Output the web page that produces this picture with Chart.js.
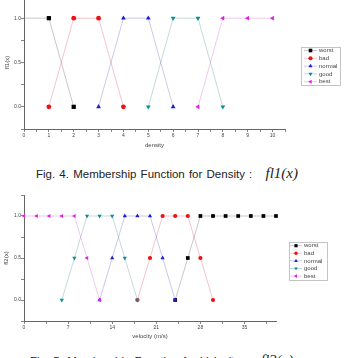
<!DOCTYPE html>
<html>
<head>
<meta charset="utf-8">
<script src="https://cdn.jsdelivr.net/npm/chart.js@4/dist/chart.umd.min.js"></script>
<style>
  html, body { margin: 0; padding: 0; background: #fff; }
  body { width: 345px; height: 358px; overflow: hidden; position: relative; font-family: "Liberation Sans", Arial, sans-serif; }
  .plot { position: absolute; left: 0; }
  #wrapDensity { top: -7px; }
  #wrapVelocity { top: 190px; }
  .caption { position: absolute; white-space: nowrap; color: #222; font-size: 11.5px; letter-spacing: 0; word-spacing: 1px; }
  .caption i { font-family: "Liberation Serif", serif; font-size: 15px; letter-spacing: 0; margin-left: 9px; }
</style>
</head>
<body>
<div class="plot" id="wrapDensity"><canvas id="chartDensity" width="345" height="156"></canvas></div>
<div class="caption" style="left:36px; top:165px;">Fig. 4. Membership Function for Density : <i>fl1(x)</i></div>
<div class="plot" id="wrapVelocity"><canvas id="chartVelocity" width="345" height="150"></canvas></div>
<div class="caption" style="left:30px; top:352px;">Fig. 5. Membership Function for Velocity : <i>fl2(x)</i></div>

<script>
// ---- data ----
const seriesNames = ['worst', 'bad', 'normal', 'good', 'best'];

// density (fig. 4)
const densityX      = [0, 1, 2, 3, 4, 5, 6, 7, 8, 9, 10];
const densityWorst  = [1, 1, 0, null, null, null, null, null, null, null, null];
const densityBad    = [null, 0, 1, 1, 0, null, null, null, null, null, null];
const densityNormal = [null, null, null, 0, 1, 1, 0, null, null, null, null];
const densityGood   = [null, null, null, null, null, 0, 1, 1, 0, null, null];
const densityBest   = [null, null, null, null, null, null, null, 0, 1, 1, 1];
const densityTicks  = [0, 1, 2, 3, 4, 5, 6, 7, 8, 9, 10];

// velocity (fig. 5)
const velocityX      = [0, 2, 4, 6, 8, 10, 12, 14, 16, 18, 20, 22, 24, 26, 28, 30, 32, 34, 36, 38, 40];
const velocityWorst  = [null, null, null, null, null, null, null, null, null, null, null, null, 0, 0.5, 1, 1, 1, 1, 1, 1, 1];
const velocityBad    = [null, null, null, null, null, null, null, null, null, 0, 0.5, 1, 1, 1, 0.5, 0, null, null, null, null, null];
const velocityNormal = [null, null, null, null, null, null, 0, 0.5, 1, 1, 1, 0.5, 0, null, null, null, null, null, null, null, null];
const velocityGood   = [null, null, null, 0, 0.5, 1, 1, 1, 0.5, 0, null, null, null, null, null, null, null, null, null, null, null];
const velocityBest   = [1, 1, 1, 1, 1, 0.5, 0, null, null, null, null, null, null, null, null, null, null, null, null, null, null];
const velocityTicks  = [0, 7, 14, 21, 28, 35];

const membershipTicks = [0, 0.5, 1];

// ---- styles ----
const markerStyles = [
  { color: '#000000', line: 'rgba(120,120,120,0.45)', pointStyle: 'rect',     rotation: 0,   scale: 1.25 },
  { color: '#ee1111', line: 'rgba(220,90,110,0.4)',   pointStyle: 'circle',   rotation: 0,   scale: 1 },
  { color: '#1c1cd0', line: 'rgba(110,100,200,0.4)',  pointStyle: 'triangle', rotation: 0,   scale: 1.15 },
  { color: '#0a8f8f', line: 'rgba(90,150,150,0.4)',   pointStyle: 'triangle', rotation: 180, scale: 1.15 },
  { color: '#e21fe2', line: 'rgba(210,110,210,0.4)',  pointStyle: 'triangle', rotation: 270, scale: 1.15 }
];
const axisColor = '#666';
const textColor = '#444';

const near = (list, v) => list.some(t => Math.abs(t - v) < 1e-6);

function toPoints(xs, ys) {
  return xs.map((x, i) => ({ x, y: ys[i] })).filter(p => p.y !== null);
}

function buildDatasets(xs, seriesList, radius, hideAtZero) {
  return seriesList.map((ys, i) => {
    const s = markerStyles[i];
    const r = radius * s.scale;
    return {
      label: seriesNames[i],
      data: toPoints(xs, ys),
      borderColor: s.line,
      borderWidth: 0.9,
      backgroundColor: s.color,
      pointBackgroundColor: s.color,
      pointBorderColor: s.color,
      pointBorderWidth: 0,
      pointStyle: s.pointStyle,
      pointRotation: s.rotation,
      pointRadius: ctx => (hideAtZero && ctx.raw && ctx.raw.x === 0 ? 0 : r),
      pointHoverRadius: r,
      legendRadius: r,
      order: seriesList.length - i,
      tension: 0,
      clip: false
    };
  });
}

// legend drawn as a framed box to the right of the plot
const boxLegend = {
  id: 'boxLegend',
  afterDraw(chart, args, opts) {
    const ctx = chart.ctx;
    ctx.save();
    ctx.strokeStyle = '#c4c4c4';
    ctx.lineWidth = 1;
    ctx.strokeRect(opts.x + 0.5, opts.y + 0.5, opts.w, opts.h);
    ctx.font = '6px "Liberation Sans", Arial, sans-serif';
    ctx.textBaseline = 'middle';
    chart.data.datasets.forEach((ds, i) => {
      const cy = opts.y + opts.firstRow + i * opts.rowH;
      ctx.strokeStyle = ds.borderColor;
      ctx.lineWidth = 0.9;
      ctx.beginPath();
      ctx.moveTo(opts.x + opts.lineFrom, cy);
      ctx.lineTo(opts.x + opts.lineTo, cy);
      ctx.stroke();
      ctx.fillStyle = ds.pointBackgroundColor;
      Chart.helpers.drawPoint(ctx, {
        pointStyle: ds.pointStyle, rotation: ds.pointRotation,
        radius: ds.legendRadius * 0.85, borderWidth: 0
      }, opts.x + (opts.lineFrom + opts.lineTo) / 2, cy);
      ctx.fillStyle = textColor;
      ctx.fillText(ds.label, opts.x + opts.textX, cy);
    });
    ctx.restore();
  }
};

// rotated y axis title, placed at a fixed x left of the tick labels
const yTitle = {
  id: 'yTitle',
  afterDraw(chart, args, opts) {
    const { ctx, chartArea } = chart;
    ctx.save();
    ctx.translate(opts.x, (chartArea.top + chartArea.bottom) / 2);
    ctx.rotate(-Math.PI / 2);
    ctx.font = '6px "Liberation Sans", Arial, sans-serif';
    ctx.fillStyle = textColor;
    ctx.textAlign = 'center';
    ctx.textBaseline = 'middle';
    ctx.fillText(opts.text, 0, 0);
    ctx.restore();
  }
};

function buildOptions(cfg) {
  return {
    responsive: false,
    animation: false,
    events: [],
    layout: { padding: { top: cfg.padTop, right: cfg.padRight, bottom: 0, left: 0 } },
    plugins: {
      legend: { display: false },
      tooltip: { enabled: false },
      boxLegend: cfg.legend,
      yTitle: { text: cfg.yTitle, x: cfg.yTitleX }
    },
    scales: {
      x: {
        type: 'linear',
        min: 0,
        max: cfg.xMax,
        afterFit: s => { s.height = cfg.xHeight; },
        ticks: {
          stepSize: cfg.xStep,
          includeBounds: false,
          autoSkip: false,
          maxRotation: 0,
          padding: 1,
          color: textColor,
          font: { family: 'Liberation Sans', size: 5 },
          callback: v => (near(cfg.xTicks, v) ? String(Math.round(v)) : '')
        },
        grid: { drawOnChartArea: false, drawTicks: true, tickLength: 3, color: axisColor, lineWidth: 0.8 },
        border: { display: true, color: axisColor, width: 1 },
        title: { display: true, text: cfg.xTitle, color: textColor, font: { family: 'Liberation Sans', size: 6 }, padding: { top: 2, bottom: 0 } }
      },
      y: {
        type: 'linear',
        min: -0.25,
        max: 1.25,
        afterFit: s => { s.width = 24; },
        ticks: {
          stepSize: 0.25,
          includeBounds: false,
          autoSkip: false,
          padding: 0,
          color: textColor,
          font: { family: 'Liberation Sans', size: 5 },
          callback: v => (near(membershipTicks, v) ? v.toFixed(1) : '')
        },
        grid: { drawOnChartArea: false, drawTicks: true, tickLength: 3, color: axisColor, lineWidth: 0.8 },
        border: { display: true, color: axisColor, width: 1 },
        title: { display: false }
      }
    }
  };
}

new Chart(document.getElementById('chartDensity'), {
  type: 'line',
  data: {
    datasets: buildDatasets(densityX,
      [densityWorst, densityBad, densityNormal, densityGood, densityBest], 2.4, true)
  },
  options: buildOptions({
    padTop: 0, padRight: 60, xMax: 10.5, xStep: 0.5, xTicks: densityTicks, xHeight: 20,
    xTitle: 'density', yTitle: 'fl1(x)', yTitleX: 7,
    legend: { x: 301, y: 54, w: 39, h: 38, firstRow: 3.5, rowH: 7.8, lineFrom: 3, lineTo: 16, textX: 18 }
  }),
  plugins: [boxLegend, yTitle]
});

new Chart(document.getElementById('chartVelocity'), {
  type: 'line',
  data: {
    datasets: buildDatasets(velocityX,
      [velocityWorst, velocityBad, velocityNormal, velocityGood, velocityBest], 2.1, false)
  },
  options: buildOptions({
    padTop: 5, padRight: 69, xMax: 40, xStep: 3.5, xTicks: velocityTicks, xHeight: 19,
    xTitle: 'velocity (m/s)', yTitle: 'fl2(x)', yTitleX: 6,
    legend: { x: 289, y: 52, w: 38, h: 38, firstRow: 3.7, rowH: 7.6, lineFrom: 1, lineTo: 13, textX: 15 }
  }),
  plugins: [boxLegend, yTitle]
});
</script>
</body>
</html>
